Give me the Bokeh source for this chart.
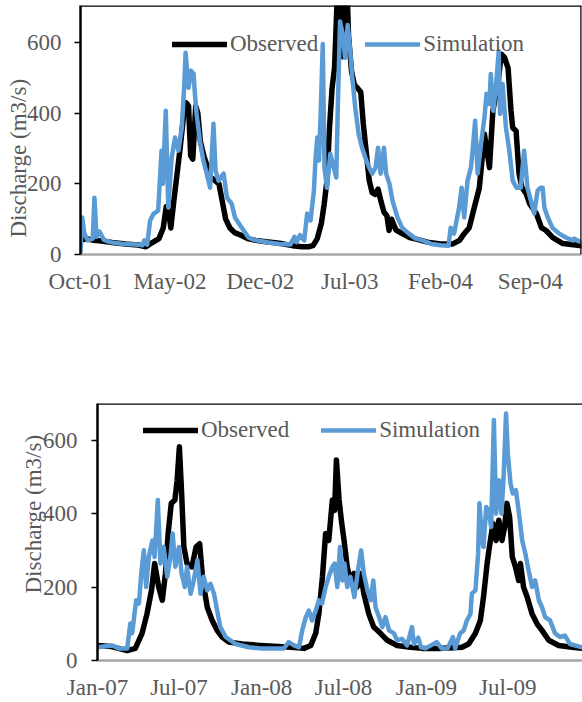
import pandas as pd
from bokeh.plotting import figure
from bokeh.layouts import column
from bokeh.models import (Range1d, FixedTicker, DatetimeTickFormatter, Span,
                          Title, Legend, LegendItem)
from bokeh.embed import file_html
from bokeh.resources import INLINE

# ---------------- data: panel 1 (Oct 2001 - Dec 2004) ----------------
obs1_dates = ["2001-10-01", "2001-10-15", "2001-11-01", "2001-11-20", "2001-12-15", "2002-01-15",
              "2002-02-15", "2002-03-05", "2002-03-15", "2002-04-05", "2002-04-15", "2002-04-22",
              "2002-04-28", "2002-05-03", "2002-05-10", "2002-05-18", "2002-05-25", "2002-06-02",
              "2002-06-08", "2002-06-14", "2002-06-19", "2002-06-24", "2002-07-01", "2002-07-06",
              "2002-07-12", "2002-07-20", "2002-07-28", "2002-08-05", "2002-08-15", "2002-08-25",
              "2002-09-02", "2002-09-10", "2002-09-20", "2002-10-01", "2002-10-15", "2002-11-01",
              "2002-11-20", "2002-12-15", "2003-01-15", "2003-02-15", "2003-03-10", "2003-03-25",
              "2003-04-05", "2003-04-15", "2003-04-25", "2003-05-01", "2003-05-08", "2003-05-14",
              "2003-05-20", "2003-05-26", "2003-06-01", "2003-06-05", "2003-06-10", "2003-06-15",
              "2003-06-20", "2003-06-24", "2003-06-28", "2003-07-05", "2003-07-12", "2003-07-20",
              "2003-07-27", "2003-08-02", "2003-08-09", "2003-08-16", "2003-08-23", "2003-08-30",
              "2003-09-06", "2003-09-13", "2003-09-20", "2003-09-27", "2003-10-02", "2003-10-08",
              "2003-10-18", "2003-11-01", "2003-11-20", "2003-12-10", "2004-01-01", "2004-02-01",
              "2004-03-01", "2004-03-17", "2004-03-28", "2004-04-09", "2004-04-21", "2004-05-03",
              "2004-05-15", "2004-05-27", "2004-06-04", "2004-06-16", "2004-06-24", "2004-07-02",
              "2004-07-10", "2004-07-17", "2004-07-21", "2004-07-29", "2004-08-05", "2004-08-12",
              "2004-08-22", "2004-08-30", "2004-09-15", "2004-09-27", "2004-10-08", "2004-10-24",
              "2004-11-17", "2004-12-31"]
obs1_q = [40, 45, 40, 38, 34, 30,
          27, 22, 30, 45, 75, 135,
          120, 75, 150, 230, 300, 390,
          430, 420, 280, 270, 420, 400,
          320, 280, 250, 220, 210, 200,
          150, 100, 75, 62, 55, 45,
          40, 36, 32, 25, 22, 22,
          25, 45, 90, 140, 210, 360,
          470, 530, 720, 780, 660, 560,
          700, 770, 620, 520, 480, 470,
          460, 370, 290, 210, 175, 170,
          185, 150, 120, 110, 68, 100,
          70, 60, 48, 42, 35, 30,
          30, 40, 59, 76, 133, 189,
          341, 246, 407, 483, 567, 557,
          528, 407, 359, 350, 229, 189,
          172, 144, 116, 76, 68, 48,
          31, 25]

sim1_dates = ["2001-10-01", "2001-10-05", "2001-10-10", "2001-10-18", "2001-10-30", "2001-11-03",
              "2001-11-08", "2001-11-15", "2001-11-25", "2001-12-10", "2002-01-10", "2002-02-10",
              "2002-02-25", "2002-03-01", "2002-03-08", "2002-03-15", "2002-03-23", "2002-04-03",
              "2002-04-11", "2002-04-14", "2002-04-21", "2002-04-27", "2002-05-05", "2002-05-13",
              "2002-05-21", "2002-05-29", "2002-06-04", "2002-06-07", "2002-06-14", "2002-06-20",
              "2002-06-26", "2002-06-29", "2002-07-03", "2002-07-11", "2002-07-19", "2002-07-27",
              "2002-08-04", "2002-08-12", "2002-08-17", "2002-08-24", "2002-09-05", "2002-09-13",
              "2002-09-24", "2002-10-02", "2002-10-18", "2002-11-03", "2002-11-15", "2002-12-01",
              "2002-12-20", "2003-01-15", "2003-02-10", "2003-02-20", "2003-02-25", "2003-03-05",
              "2003-03-15", "2003-03-22", "2003-03-30", "2003-04-07", "2003-04-11", "2003-04-15",
              "2003-04-19", "2003-04-23", "2003-04-28", "2003-05-02", "2003-05-08", "2003-05-16",
              "2003-05-24", "2003-05-30", "2003-06-03", "2003-06-08", "2003-06-14", "2003-06-20",
              "2003-06-26", "2003-07-02", "2003-07-07", "2003-07-14", "2003-07-22", "2003-07-30",
              "2003-08-07", "2003-08-16", "2003-08-23", "2003-08-31", "2003-09-06", "2003-09-12",
              "2003-09-20", "2003-09-25", "2003-10-03", "2003-10-10", "2003-10-22", "2003-11-02",
              "2003-11-18", "2003-12-04", "2003-12-20", "2004-01-10", "2004-02-01", "2004-02-20",
              "2004-02-25", "2004-03-04", "2004-03-16", "2004-03-22", "2004-03-28", "2004-04-05",
              "2004-04-13", "2004-04-17", "2004-04-23", "2004-04-29", "2004-05-07", "2004-05-15",
              "2004-05-20", "2004-05-27", "2004-05-30", "2004-06-05", "2004-06-11", "2004-06-18",
              "2004-06-21", "2004-06-27", "2004-07-05", "2004-07-13", "2004-07-21", "2004-07-30",
              "2004-08-09", "2004-08-17", "2004-08-25", "2004-09-02", "2004-09-10", "2004-09-18",
              "2004-09-25", "2004-09-30", "2004-10-04", "2004-10-12", "2004-10-23", "2004-11-08",
              "2004-11-24", "2004-12-10", "2004-12-14", "2004-12-31"]
sim1_q = [5, 105, 60, 40, 45, 161,
          50, 65, 42, 35, 30, 28,
          26, 40, 28, 96, 115, 124,
          294, 200, 407, 133, 274, 331,
          294, 359, 483, 571, 472, 520,
          511, 455, 398, 322, 266, 229,
          189, 370, 237, 209, 229, 161,
          144, 105, 76, 48, 42, 38,
          34, 30, 28, 50, 35, 55,
          40, 116, 96, 181, 274, 331,
          266, 398, 596, 246, 189, 285,
          246, 218, 435, 660, 624, 557,
          650, 576, 500, 415, 341, 302,
          274, 246, 229, 246, 302, 229,
          302, 229, 200, 153, 105, 76,
          59, 45, 40, 30, 26, 25,
          76, 59, 133, 189, 105, 209,
          246, 294, 379, 229, 313, 387,
          455, 426, 511, 407, 472, 576,
          398, 483, 359, 294, 209, 189,
          189, 294, 189, 153, 116, 181,
          189, 189, 133, 105, 76, 59,
          48, 40, 45, 34]

# ---------------- data: panel 2 (Jan 2007 - Dec 2009) ----------------
obs2_dates = ["2007-01-01", "2007-02-01", "2007-03-08", "2007-03-26", "2007-04-10", "2007-04-21",
              "2007-05-01", "2007-05-08", "2007-05-17", "2007-05-25", "2007-06-01", "2007-06-07",
              "2007-06-14", "2007-06-22", "2007-06-27", "2007-07-02", "2007-07-07", "2007-07-12",
              "2007-07-19", "2007-07-30", "2007-08-08", "2007-08-16", "2007-08-23", "2007-09-02",
              "2007-09-13", "2007-09-24", "2007-10-05", "2007-10-20", "2007-11-19", "2007-12-29",
              "2008-03-06", "2008-04-04", "2008-04-19", "2008-04-30", "2008-05-07", "2008-05-15",
              "2008-05-22", "2008-05-29", "2008-06-06", "2008-06-11", "2008-06-15", "2008-06-21",
              "2008-06-26", "2008-07-02", "2008-07-09", "2008-07-16", "2008-07-24", "2008-07-31",
              "2008-08-08", "2008-08-15", "2008-08-26", "2008-09-06", "2008-09-21", "2008-10-06",
              "2008-10-28", "2008-11-27", "2008-12-23", "2009-01-28", "2009-03-21", "2009-04-05",
              "2009-04-20", "2009-05-01", "2009-05-08", "2009-05-16", "2009-05-21", "2009-05-29",
              "2009-06-05", "2009-06-11", "2009-06-18", "2009-06-24", "2009-06-29", "2009-07-05",
              "2009-07-11", "2009-07-18", "2009-07-25", "2009-07-29", "2009-08-05", "2009-08-13",
              "2009-08-24", "2009-09-04", "2009-09-15", "2009-09-30", "2009-10-22", "2009-11-21",
              "2009-12-13", "2009-12-31"]
obs2_q = [41, 38, 27, 33, 74, 127,
          191, 264, 200, 164, 237, 346,
          428, 437, 491, 582, 455, 309,
          264, 255, 309, 318, 218, 145,
          109, 82, 64, 50, 45, 41,
          36, 33, 41, 74, 127, 228,
          346, 327, 437, 409, 546, 437,
          382, 327, 255, 218, 237, 200,
          237, 182, 127, 91, 74, 55,
          41, 36, 33, 33, 36, 45,
          74, 109, 173, 264, 309, 373,
          327, 382, 327, 364, 428, 391,
          282, 255, 218, 264, 200, 173,
          127, 100, 82, 55, 41, 36,
          33, 33]

sim2_dates = ["2007-01-01", "2007-02-03", "2007-02-17", "2007-03-08", "2007-03-15", "2007-03-19",
              "2007-03-28", "2007-04-03", "2007-04-09", "2007-04-14", "2007-04-19", "2007-04-25",
              "2007-05-03", "2007-05-08", "2007-05-15", "2007-05-21", "2007-05-28", "2007-06-05",
              "2007-06-12", "2007-06-17", "2007-06-23", "2007-07-01", "2007-07-07", "2007-07-14",
              "2007-07-19", "2007-07-27", "2007-08-03", "2007-08-11", "2007-08-18", "2007-08-25",
              "2007-09-02", "2007-09-09", "2007-09-17", "2007-09-24", "2007-10-01", "2007-10-13",
              "2007-11-04", "2007-12-03", "2007-12-29", "2008-02-19", "2008-03-01", "2008-03-13",
              "2008-03-24", "2008-03-31", "2008-04-08", "2008-04-15", "2008-04-22", "2008-04-30",
              "2008-05-07", "2008-05-14", "2008-05-22", "2008-05-29", "2008-06-06", "2008-06-11",
              "2008-06-17", "2008-06-23", "2008-06-28", "2008-07-03", "2008-07-09", "2008-07-16",
              "2008-07-25", "2008-08-02", "2008-08-09", "2008-08-15", "2008-08-23", "2008-08-30",
              "2008-09-05", "2008-09-10", "2008-09-18", "2008-09-25", "2008-10-02", "2008-10-10",
              "2008-10-21", "2008-10-28", "2008-11-08", "2008-11-19", "2008-11-30", "2008-12-04",
              "2008-12-14", "2008-12-20", "2008-12-30", "2009-01-24", "2009-02-04", "2009-02-17",
              "2009-03-01", "2009-03-06", "2009-03-17", "2009-03-25", "2009-04-01", "2009-04-09",
              "2009-04-12", "2009-04-20", "2009-04-26", "2009-04-29", "2009-05-05", "2009-05-08",
              "2009-05-14", "2009-05-19", "2009-05-25", "2009-05-31", "2009-06-05", "2009-06-11",
              "2009-06-17", "2009-06-22", "2009-06-27", "2009-07-01", "2009-07-07", "2009-07-12",
              "2009-07-19", "2009-07-25", "2009-08-02", "2009-08-09", "2009-08-16", "2009-08-24",
              "2009-08-31", "2009-09-08", "2009-09-15", "2009-09-22", "2009-10-03", "2009-10-14",
              "2009-10-25", "2009-11-05", "2009-11-16", "2009-12-13", "2009-12-31"]
sim2_q = [36, 41, 33, 33, 101, 74,
          164, 155, 246, 300, 200, 282,
          327, 282, 437, 264, 309, 228,
          282, 346, 255, 309, 237, 200,
          255, 182, 218, 273, 182, 228,
          191, 209, 182, 136, 91, 64,
          45, 36, 33, 33, 50, 41,
          36, 82, 118, 136, 109, 136,
          164, 155, 200, 228, 255, 264,
          200, 309, 218, 264, 200, 228,
          173, 246, 300, 237, 191, 164,
          218, 145, 118, 91, 118, 82,
          74, 55, 59, 41, 91, 45,
          62, 36, 33, 50, 33, 33,
          64, 33, 74, 82, 109, 127,
          182, 191, 291, 428, 327, 309,
          418, 409, 364, 655, 400, 491,
          400, 510, 673, 564, 482, 455,
          464, 409, 327, 291, 246, 200,
          218, 164, 145, 118, 109, 74,
          64, 68, 45, 36, 35]

# axes
top_range = ["2001-10-01", "2004-12-31"]
top_ticks = ["2001-10-01", "2002-05-01", "2002-12-01", "2003-07-01", "2004-02-01", "2004-09-01"]
bot_range = ["2007-01-01", "2009-12-14"]
bot_ticks = ["2007-01-01", "2007-07-01", "2008-01-01", "2008-07-01", "2009-01-01", "2009-07-01"]
y_ticks = [0, 200, 400, 600]
y_title = "Discharge (m3/s)"

FONT = "Liberation Serif"
GRAY = "#595959"
BLUE = "#5B9BD5"
FS = "23px"


def ts(s):
    return pd.Timestamp(s).to_pydatetime()


def ms(s):
    return float(pd.Timestamp(s).value // 10**6)


def panel(obs_d, obs_v, sim_d, sim_v, xr, xticks, ymax, width, height, mb, legend_loc,
          spacing, title_offset, title_standoff, ytick_standoff, xtick_standoff, right_border):
    p = figure(width=width, height=height, x_axis_type="datetime",
               x_range=Range1d(ts(xr[0]), ts(xr[1])), y_range=Range1d(0, ymax),
               output_backend="svg", toolbar_location=None,
               min_border_left=mb[0], min_border_right=mb[1],
               min_border_top=mb[2], min_border_bottom=mb[3])
    p.frame_align = False
    p.outline_line_color = None
    p.grid.visible = False
    p.background_fill_color = "white"
    p.border_fill_color = "white"

    r_obs = p.line(pd.to_datetime(obs_d), obs_v, line_color="black", line_width=5.5,
                   line_join="round", line_cap="round")
    r_sim = p.line(pd.to_datetime(sim_d), sim_v, line_color=BLUE, line_width=4.5,
                   line_join="round", line_cap="round")

    # y axis
    ya = p.yaxis[0]
    ya.ticker = FixedTicker(ticks=y_ticks)
    ya.axis_line_color = "black"
    ya.axis_line_width = 2.5
    ya.major_tick_out = 6
    ya.major_tick_in = 0
    ya.major_tick_line_color = "black"
    ya.major_tick_line_width = 1.5
    ya.minor_tick_line_color = None
    ya.major_label_text_font = FONT
    ya.major_label_text_font_size = FS
    ya.major_label_text_color = GRAY
    ya.major_label_standoff = ytick_standoff

    # x axis
    xa = p.xaxis[0]
    xa.ticker = FixedTicker(ticks=[ms(t) for t in xticks])
    xa.formatter = DatetimeTickFormatter(days="%b-%y", months="%b-%y", years="%b-%y")
    xa.axis_line_color = "#A6A6A6"
    xa.axis_line_width = 2.5
    xa.major_tick_line_color = None
    xa.minor_tick_line_color = None
    xa.major_tick_out = 0
    xa.major_tick_in = 0
    xa.major_label_text_font = FONT
    xa.major_label_text_font_size = FS
    xa.major_label_text_color = GRAY
    xa.major_label_standoff = xtick_standoff

    # frame borders
    p.add_layout(Span(location=ymax, dimension="width", line_color="black", line_width=2.5))
    if right_border:
        p.add_layout(Span(location=ms(xr[1]), dimension="height",
                          line_color="black", line_width=2.5))

    # y axis title as a side title (allows an off-centre vertical position)
    p.add_layout(Title(text=y_title, align="left", offset=title_offset,
                       standoff=title_standoff, vertical_align="middle",
                       text_font=FONT, text_font_size=FS, text_font_style="normal",
                       text_color=GRAY), "left")

    leg = Legend(items=[LegendItem(label="Observed", renderers=[r_obs]),
                        LegendItem(label="Simulation", renderers=[r_sim])],
                 orientation="horizontal", location=legend_loc,
                 glyph_width=55, glyph_height=26, label_standoff=3, spacing=spacing,
                 padding=0, margin=0, border_line_color=None, background_fill_alpha=0,
                 label_text_font=FONT, label_text_font_size=FS, label_text_color=GRAY)
    p.add_layout(leg)
    return p


p1 = panel(obs1_dates, obs1_q, sim1_dates, sim1_q, top_range, top_ticks,
           ymax=705, width=582, height=300, mb=(80, 1, 5, 46), legend_loc=(92, 197),
           spacing=47, title_offset=17, title_standoff=-16.5, ytick_standoff=13,
           xtick_standoff=14, right_border=True)
p2 = panel(obs2_dates, obs2_q, sim2_dates, sim2_q, bot_range, bot_ticks,
           ymax=700, width=582, height=402, mb=(97, 0, 103, 42), legend_loc=(46, 217),
           spacing=32, title_offset=67, title_standoff=-14.5, ytick_standoff=14,
           xtick_standoff=14, right_border=False)

layout = column(p1, p2, spacing=0)
open("out.html", "w").write(file_html(layout, INLINE))
